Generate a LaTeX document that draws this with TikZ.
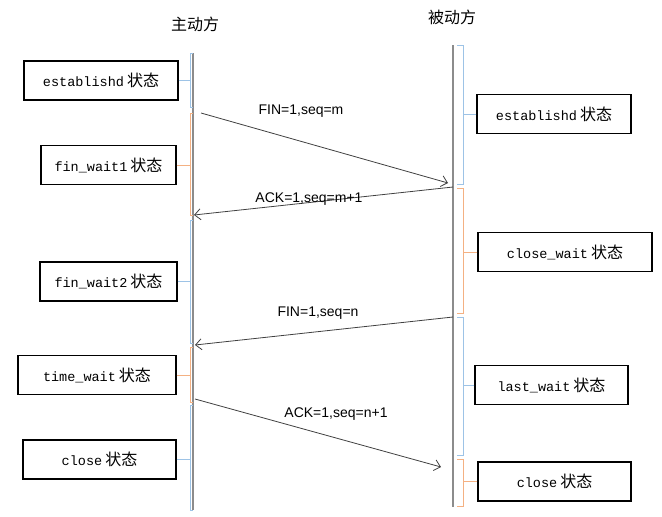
\documentclass[tikz,border=0pt]{standalone}
\usepackage{fontspec}
\setsansfont{Liberation Sans}
\setmonofont{Liberation Mono}
\newfontfamily\cjk{Noto Sans CJK SC}
\usetikzlibrary{arrows.meta,positioning}
\definecolor{brblue}{HTML}{9DC3E6}
\definecolor{brorange}{HTML}{F4B183}
\newcommand{\st}[1]{{\ttfamily\fontsize{13.5}{15}\selectfont #1}\hspace{3pt}{\cjk\fontsize{16}{17}\selectfont 状态}}
\tikzset{
  stbox/.style={draw,rectangle,line width=1.4pt,minimum height=39pt,inner sep=2pt,align=center},
  life/.style={draw=gray!90,line width=1.2pt},
  brk/.style={line width=0.7pt},
  msg/.style={-{Straight Barb[length=6pt,width=11pt]},draw=black!75,line width=0.8pt},
  msglbl/.style={font=\sffamily\fontsize{14}{16}\selectfont,inner sep=1pt},
  ttl/.style={font=\cjk\fontsize{16}{18}\selectfont}
}
\begin{document}
\begin{tikzpicture}[x=1pt,y=-1pt]
  \useasboundingbox (0,0) rectangle (662,517);
  % Titles
  \node[ttl] (tA) at (195,24) {主动方};
  \node[ttl] (tB) at (452,17) {被动方};

  % Lifelines
  \coordinate (lAtop) at (193,53);
  \coordinate (lAbot) at (193,510);
  \coordinate (lBtop) at (453,45);
  \coordinate (lBbot) at (453,507);
  \draw[life] (lAtop) -- (lAbot);
  \draw[life] (lBtop) -- (lBbot);
  \coordinate (brA) at (190,0);
  \coordinate (brB) at (463,0);

  % Active side states
  \node[stbox, minimum width=154pt] (sA1) at (101,80.5) {\st{establishd}};
  \node[stbox, minimum width=135pt] (sA2) at (108.5,165) {\st{fin\_wait1}};
  \node[stbox, minimum width=137pt] (sA3) at (108.5,281.5) {\st{fin\_wait2}};
  \node[stbox, minimum width=158pt] (sA4) at (97,375) {\st{time\_wait}};
  \node[stbox, minimum width=153pt] (sA5) at (99.5,459.5) {\st{close}};

  % Passive side states
  \node[stbox, minimum width=154pt] (sB1) at (554,114) {\st{establishd}};
  \node[stbox, minimum width=174pt] (sB2) at (565,252) {\st{close\_wait}};
  \node[stbox, minimum width=153pt] (sB3) at (551.5,385) {\st{last\_wait}};
  \node[stbox, minimum width=153pt] (sB4) at (554.5,481.5) {\st{close}};

  % Brackets
  \foreach \t/\b/\c/\s in {53/107/brblue/sA1, 113/215/brorange/sA2, 220/343/brblue/sA3, 347/402/brorange/sA4, 405/510/brblue/sA5}{
    \draw[brk,\c] (193,\t) -- (190,\t) -- (190,\b) -- (193,\b);
    \draw[brk,\c] (\s.east) -- (\s.east -| brA);
  }
  \foreach \t/\b/\c/\s in {45/184/brblue/sB1, 188/313/brorange/sB2, 317/455/brblue/sB3, 459/506/brorange/sB4}{
    \draw[brk,\c] (457,\t) -- (463,\t) -- (463,\b) -- (457,\b);
    \draw[brk,\c] (\s.west) -- (\s.west -| brB);
  }

  % Messages
  \coordinate (m1s) at (201,113);
  \coordinate (m1e) at (448,183);
  \coordinate (m2s) at (453,187);
  \coordinate (m2e) at (194,215);
  \coordinate (m3s) at (453,317);
  \coordinate (m3e) at (195,345);
  \coordinate (m4s) at (195,399);
  \coordinate (m4e) at (441,467);
  \draw[msg] (m1s) -- (m1e);
  \draw[msg] (m2s) -- (m2e);
  \draw[msg] (m3s) -- (m3e);
  \draw[msg] (m4s) -- (m4e);
  \node[msglbl] (l1) at (301,111) {FIN=1,seq=m};
  \node[msglbl] (l2) at (309,199) {ACK=1,seq=m+1};
  \node[msglbl] (l3) at (318,313) {FIN=1,seq=n};
  \node[msglbl] (l4) at (336,414) {ACK=1,seq=n+1};
\end{tikzpicture}
\end{document}
